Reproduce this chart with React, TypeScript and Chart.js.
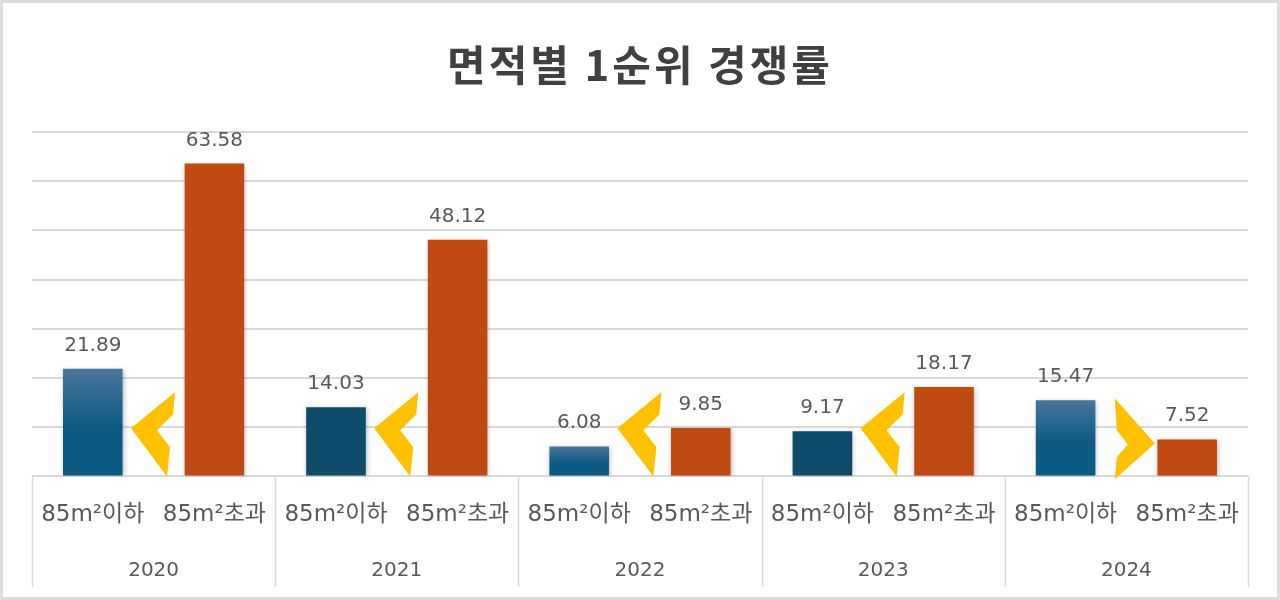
import { useEffect, useRef } from 'react';
import { Chart, registerables } from 'chart.js';

Chart.register(...registerables);

// ---- data ----
const years = ['2020', '2021', '2022', '2023', '2024'];
const sizeLabels = ['85m²이하', '85m²초과'];
const under85 = [21.89, 14.03, 6.08, 9.17, 15.47];
const over85 = [63.58, 48.12, 9.85, 18.17, 7.52];
const yMax = 70;
const yStep = 10;
const titleText = '면적별 1순위 경쟁률';

// ---- styles ----
const BLUE_TOP = '#4a769c';
const BLUE_BOTTOM = '#0b5a82';
const BLUE_DARK = '#0f4b6b';
const ORANGE = '#c04b12';
const ARROW = '#FFC000';
const GRID = '#d9d9d9';
const TEXT = '#595959';
const TITLE_SPACING = '3px';

const labels = years.flatMap(() => sizeLabels);
const underData = years.flatMap((_, i) => [under85[i], null]);
const overData = years.flatMap((_, i) => [null, over85[i]]);

// chevron outlines: [fraction of category width from group centre, value units]
const LT_SHAPE: [number, number][] = [
  [-0.186, 9.8], [0.176, 17.1], [0.16, 12.6], [0.028, 9.4], [0.135, 5.9], [0.11, 0],
];
const GT_SHAPE: [number, number][] = [
  [-0.095, 15.9], [0.234, 6.7], [-0.095, -0.6], [-0.079, 3.9], [0.012, 6.5], [-0.079, 9.4],
];

const backgroundPlugin = {
  id: 'bgFrame',
  beforeDraw(chart: any) {
    const { ctx, width, height } = chart;
    ctx.save();
    ctx.fillStyle = '#ffffff';
    ctx.fillRect(0, 0, width, height);
    ctx.strokeStyle = '#dcdcdc';
    ctx.lineWidth = 3;
    ctx.strokeRect(1.5, 1.5, width - 3, height - 3);
    ctx.restore();
    // spacing used by the title (drawn before datasets)
    ctx.letterSpacing = TITLE_SPACING;
  },
  afterDraw(chart: any) {
    chart.ctx.letterSpacing = '0px';
  },
};

const shadowPlugin = {
  id: 'barShadow',
  beforeDatasetsDraw(chart: any) {
    const { ctx } = chart;
    ctx.letterSpacing = '0px';
    ctx.save();
    ctx.shadowColor = 'rgba(0,0,0,0.28)';
    ctx.shadowBlur = 5;
    ctx.shadowOffsetX = 1;
    ctx.shadowOffsetY = 1;
  },
  afterDatasetsDraw(chart: any) {
    chart.ctx.restore();
  },
};

const overlayPlugin = {
  id: 'overlay',
  afterDatasetsDraw(chart: any) {
    const { ctx, scales, chartArea } = chart;
    const x = scales.x;
    const y = scales.y;
    const x2 = scales.x2;
    const w = x.getPixelForValue(1) - x.getPixelForValue(0);

    // value labels
    ctx.save();
    ctx.fillStyle = TEXT;
    ctx.font = '20px "DejaVu Sans"';
    ctx.textAlign = 'center';
    ctx.textBaseline = 'alphabetic';
    chart.data.datasets.forEach((ds: any, di: number) => {
      const meta = chart.getDatasetMeta(di);
      meta.data.forEach((el: any, i: number) => {
        const v = ds.data[i];
        if (v === null || v === undefined) return;
        ctx.fillText(v.toFixed(2), el.x, el.y - 18);
      });
    });
    ctx.restore();

    // chevrons
    ctx.save();
    ctx.fillStyle = ARROW;
    years.forEach((_, i) => {
      const cx = (x.getPixelForValue(2 * i) + x.getPixelForValue(2 * i + 1)) / 2;
      const shape = under85[i] < over85[i] ? LT_SHAPE : GT_SHAPE;
      ctx.beginPath();
      shape.forEach(([fx, v], k) => {
        const px = cx + fx * w;
        const py = y.getPixelForValue(v);
        if (k === 0) ctx.moveTo(px, py);
        else ctx.lineTo(px, py);
      });
      ctx.closePath();
      ctx.fill();
    });
    ctx.restore();

    // group separators in the axis area
    ctx.save();
    ctx.strokeStyle = GRID;
    ctx.lineWidth = 1.5;
    for (let k = 0; k <= years.length; k++) {
      const px = Math.round(x.getPixelForValue(0) - w / 2 + k * 2 * w) + 0.5;
      ctx.beginPath();
      ctx.moveTo(px, chartArea.bottom);
      ctx.lineTo(px, x2.bottom);
      ctx.stroke();
    }
    ctx.restore();
  },
};

function blueFill(context: any) {
  const chart = context.chart;
  const idx = context.dataIndex;
  const yearIdx = Math.floor(idx / 2);
  if (yearIdx === 1 || yearIdx === 3) return BLUE_DARK;
  const area = chart.chartArea;
  if (!area) return BLUE_BOTTOM;
  const top = chart.scales.y.getPixelForValue(under85[yearIdx]);
  const g = chart.ctx.createLinearGradient(0, top, 0, area.bottom);
  g.addColorStop(0, BLUE_TOP);
  g.addColorStop(0.55, BLUE_BOTTOM);
  g.addColorStop(1, BLUE_BOTTOM);
  return g;
}

export default function App() {
  const canvasRef = useRef<HTMLCanvasElement | null>(null);

  useEffect(() => {
    if (!canvasRef.current) return;
    const chart = new Chart(canvasRef.current, {
      type: 'bar',
      data: {
        labels,
        datasets: [
          {
            label: sizeLabels[0],
            data: underData,
            backgroundColor: blueFill,
            skipNull: true,
            barPercentage: 0.49,
            categoryPercentage: 1,
          } as any,
          {
            label: sizeLabels[1],
            data: overData,
            backgroundColor: ORANGE,
            skipNull: true,
            barPercentage: 0.49,
            categoryPercentage: 1,
          } as any,
        ],
      },
      options: {
        animation: false,
        responsive: true,
        maintainAspectRatio: false,
        layout: { padding: { left: 32, right: 32, top: 0, bottom: 13 } },
        plugins: {
          legend: { display: false },
          tooltip: { enabled: false },
          title: {
            display: true,
            text: titleText,
            color: '#404040',
            font: { family: '"Noto Sans CJK KR"', size: 42, weight: 'bold' },
            padding: { top: 40, bottom: 41.6 },
          },
        },
        scales: {
          y: {
            min: 0,
            max: yMax,
            ticks: { display: false, stepSize: yStep },
            grid: { color: GRID, lineWidth: 2, drawTicks: false },
            border: { display: false },
          },
          x: {
            type: 'category',
            position: 'bottom',
            weight: 0,
            offset: true,
            grid: { display: false, drawTicks: false },
            border: { display: false },
            ticks: {
              z: 1,
              color: TEXT,
              padding: 25,
              autoSkip: false,
              maxRotation: 0,
              minRotation: 0,
              font: { family: '"DejaVu Sans", "Noto Sans CJK KR"', size: 23 },
            },
          },
          x2: {
            type: 'category',
            position: 'bottom',
            weight: 1,
            labels: years,
            offset: true,
            grid: { display: false, drawTicks: false },
            border: { display: false },
            ticks: {
              z: 2,
              color: TEXT,
              padding: 4.5,
              autoSkip: false,
              maxRotation: 0,
              font: { family: '"DejaVu Sans"', size: 20 },
            },
          },
        },
      },
      plugins: [backgroundPlugin, shadowPlugin, overlayPlugin],
    });
    return () => chart.destroy();
  }, []);

  return (
    <div style={{ position: 'fixed', left: 0, top: 0, width: 1280, height: 600, background: '#fff' }}>
      <canvas ref={canvasRef} />
    </div>
  );
}
